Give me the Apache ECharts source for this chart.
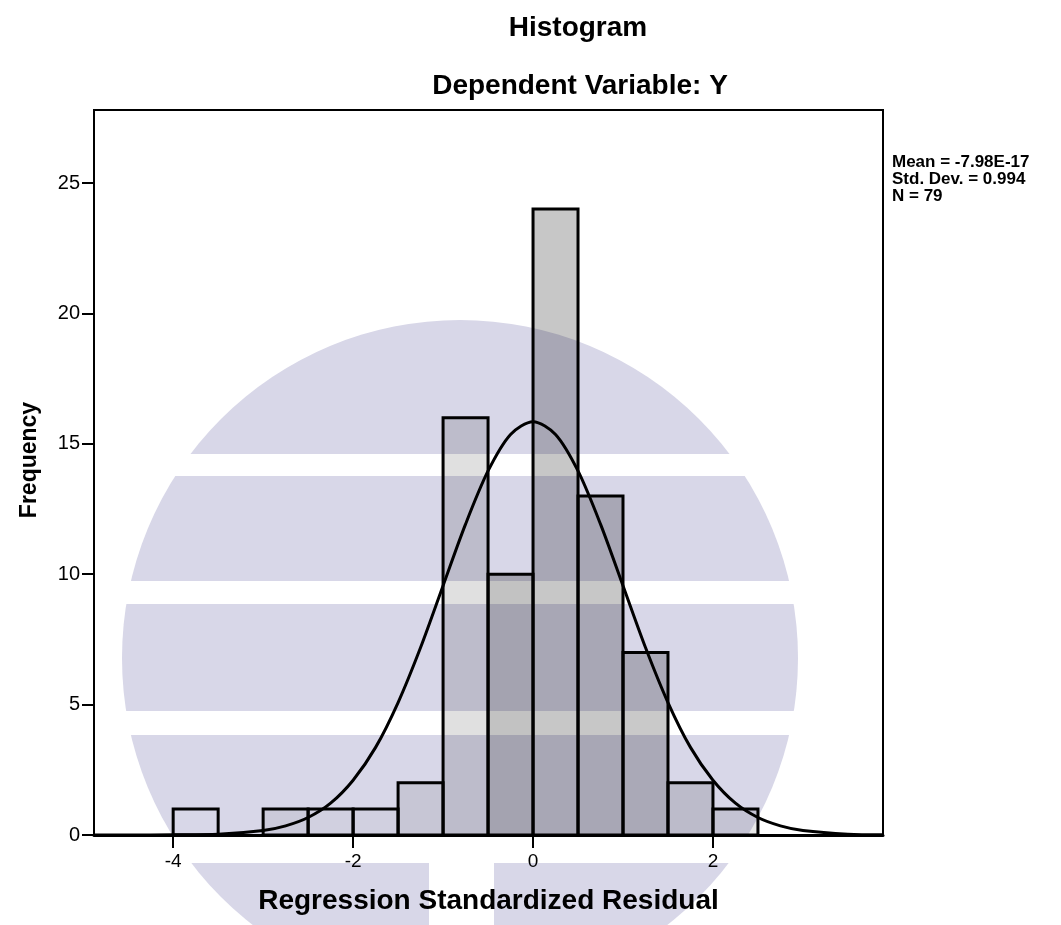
<!DOCTYPE html>
<html>
<head>
<meta charset="utf-8">
<script src="https://cdn.jsdelivr.net/npm/echarts@6/dist/echarts.min.js"></script>
<style>
  html, body { margin: 0; padding: 0; background: #fff; }
  #chart { width: 1061px; height: 925px; }
</style>
</head>
<body>
<div id="chart"></div>
<script>
// histogram bins (lower edge, upper edge) and counts
var binStart = [-4, -3.5, -3, -2.5, -2, -1.5, -1, -0.5, 0, 0.5, 1, 1.5, 2];
var binEnd = [-3.5, -3, -2.5, -2, -1.5, -1, -0.5, 0, 0.5, 1, 1.5, 2, 2.5];
var counts = [1, 0, 1, 1, 1, 2, 16, 10, 24, 13, 7, 2, 1];

// stipple darkness of each bar (style only)
var shade = [0, 0, 0.06, 0.03, 0.03, 0.08, 0.12, 0.24, 0.22, 0.22, 0.21, 0.13, 0.09];

// normal curve
var curveX = [-4.88, -4.5, -4, -3.5, -3, -2.75, -2.5, -2.25, -2, -1.75, -1.5, -1.25, -1, -0.75, -0.5, -0.25, 0,
  0.25, 0.5, 0.75, 1, 1.25, 1.5, 1.75, 2, 2.25, 2.5, 2.75, 3, 3.5, 3.89];
var curveY = [0, 0, 0.01, 0.03, 0.17, 0.35, 0.67, 1.22, 2.1, 3.36, 5.08, 7.19, 9.56, 11.92, 13.96, 15.36, 15.85,
  15.36, 13.96, 11.92, 9.56, 7.19, 5.08, 3.36, 2.1, 1.22, 0.67, 0.35, 0.17, 0.03, 0.01];

var xTicks = [-4, -2, 0, 2];
var statsText = ["Mean = -7.98E-17", "Std. Dev. = 0.994", "N = 79"];

var chartDom = document.getElementById("chart");
var myChart = echarts.init(chartDom);

var font = "'Liberation Sans', Arial, sans-serif";
var lav = "#d8d7e8";

var barData = binStart.map(function (s, i) { return [s, binEnd[i], counts[i], shade[i]]; });
var curveData = curveX.map(function (x, i) { return [x, curveY[i]]; });

var option = {
  backgroundColor: "#fff",
  animation: false,
  grid: {
    left: 94, right: 178, top: 110, bottom: 90,
    show: true, borderColor: "#000", borderWidth: 2, backgroundColor: "transparent"
  },
  graphic: [
    // watermark behind the chart
    { type: "circle", z: -10, shape: { cx: 460, cy: 658, r: 338 }, style: { fill: lav } },
    { type: "rect", z: -9, shape: { x: 100, y: 454, width: 720, height: 22 }, style: { fill: "#fff" } },
    { type: "rect", z: -9, shape: { x: 100, y: 581, width: 720, height: 23 }, style: { fill: "#fff" } },
    { type: "rect", z: -9, shape: { x: 100, y: 711, width: 720, height: 24 }, style: { fill: "#fff" } },
    { type: "rect", z: -9, shape: { x: 100, y: 837, width: 720, height: 26 }, style: { fill: "#fff" } },
    { type: "rect", z: -9, shape: { x: 429, y: 863, width: 65, height: 70 }, style: { fill: "#fff" } },
    // titles
    { type: "text", x: 578, y: 28, style: { text: "Histogram", font: "bold 28px " + font, fill: "#000", align: "center", verticalAlign: "middle" } },
    { type: "text", x: 580, y: 86, style: { text: "Dependent Variable: Y", font: "bold 28px " + font, fill: "#000", align: "center", verticalAlign: "middle" } },
    // y axis name
    { type: "text", x: 30, y: 460, rotation: Math.PI / 2, style: { text: "Frequency", font: "bold 23px " + font, fill: "#000", align: "center", verticalAlign: "middle" } },
    // summary statistics
    { type: "text", x: 892, y: 154, style: { text: statsText.join("\n"), font: "bold 17px " + font, lineHeight: 17, fill: "#000", align: "left", verticalAlign: "top" } }
  ],
  xAxis: {
    type: "value",
    min: -4.88,
    max: 3.89,
    splitLine: { show: false },
    axisLine: { show: true, onZero: false, lineStyle: { color: "#000", width: 3 } },
    axisTick: { show: true, customValues: xTicks, length: 13, lineStyle: { color: "#000", width: 2 } },
    axisLabel: { customValues: xTicks, color: "#000", fontSize: 19, fontFamily: font, margin: 17 },
    name: "Regression Standardized Residual",
    nameLocation: "middle",
    nameGap: 52,
    nameTextStyle: { color: "#000", fontSize: 28, fontWeight: "bold", fontFamily: font }
  },
  yAxis: {
    type: "value",
    min: 0,
    max: 27.8,
    interval: 5,
    splitLine: { show: false },
    axisLine: { show: true, onZero: false, lineStyle: { color: "#000", width: 2 } },
    axisTick: { show: true, length: 12, lineStyle: { color: "#000", width: 2 } },
    axisLabel: { color: "#000", fontSize: 20, fontFamily: font, margin: 14, showMaxLabel: false }
  },
  series: [
    {
      type: "custom",
      data: barData,
      encode: { x: [0, 1], y: 2 },
      z: 3,
      renderItem: function (params, api) {
        var cnt = api.value(2);
        if (!cnt) return null;
        var p0 = api.coord([api.value(0), cnt]);
        var p1 = api.coord([api.value(1), 0]);
        return {
          type: "rect",
          shape: { x: p0[0], y: p0[1], width: p1[0] - p0[0], height: p1[1] - p0[1] },
          style: { fill: "rgba(0,0,0," + api.value(3) + ")", stroke: "#000", lineWidth: 3 }
        };
      }
    },
    {
      type: "line",
      data: curveData,
      smooth: 0.3,
      symbol: "none",
      z: 4,
      lineStyle: { color: "#000", width: 3 }
    }
  ]
};

myChart.setOption(option);
</script>
</body>
</html>
